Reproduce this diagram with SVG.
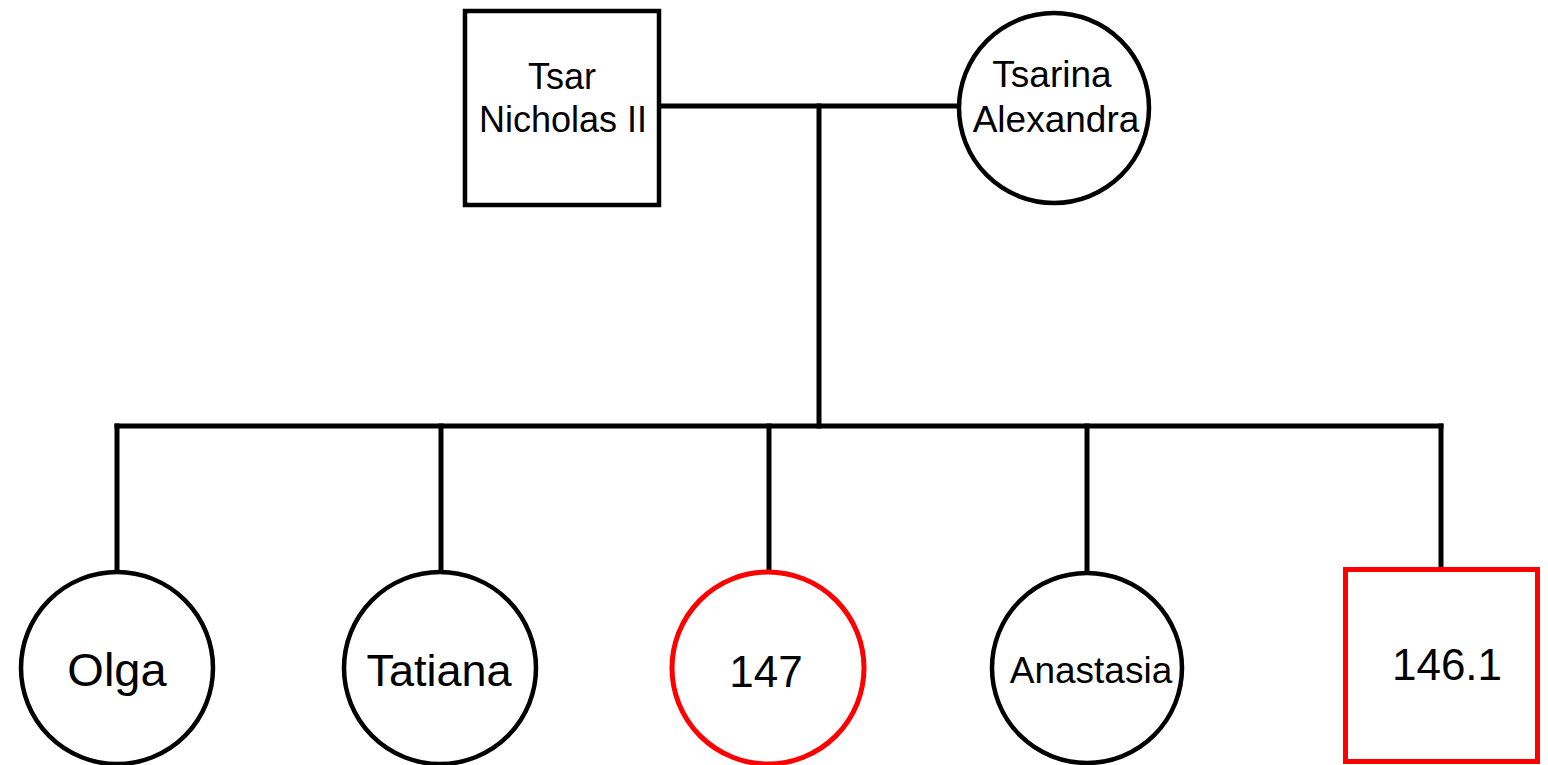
<svg xmlns="http://www.w3.org/2000/svg" width="1548" height="765" viewBox="0 0 1548 765">
  <style>
    .ln { stroke: #000; stroke-width: 5; fill: none; stroke-linecap: square; }
    .shape { fill: #fff; stroke: #000; stroke-width: 4.5; }
    .red { stroke: #ff0000; stroke-width: 5; }
    text { font-family: "Liberation Sans", Arial, sans-serif; fill: #000; text-anchor: middle; }
  </style>
  <rect width="1548" height="765" fill="#fff"/>

  <!-- connectors -->
  <g id="connectors">
    <line class="ln" x1="661" y1="106" x2="957" y2="106"/>
    <line class="ln" x1="819" y1="106" x2="819" y2="426"/>
    <line class="ln" x1="117" y1="426" x2="1441" y2="426"/>
    <line class="ln" x1="117" y1="426" x2="117" y2="572"/>
    <line class="ln" x1="441" y1="426" x2="441" y2="572"/>
    <line class="ln" x1="769" y1="426" x2="769" y2="572"/>
    <line class="ln" x1="1087" y1="426" x2="1087" y2="572"/>
    <line class="ln" x1="1441" y1="426" x2="1441" y2="567"/>
  </g>

  <!-- parents -->
  <g id="tsar-nicholas">
    <rect class="shape" x="465" y="11" width="194" height="194"/>
    <text x="562" y="89" font-size="36">Tsar</text>
    <text x="563" y="132" font-size="36">Nicholas II</text>
  </g>
  <g id="tsarina-alexandra">
    <circle class="shape" cx="1054" cy="108" r="95"/>
    <text x="1052" y="87" font-size="37">Tsarina</text>
    <text x="1056" y="132" font-size="37">Alexandra</text>
  </g>

  <!-- children -->
  <g id="olga">
    <circle class="shape" cx="117" cy="668" r="96"/>
    <text x="117" y="686" font-size="47">Olga</text>
  </g>
  <g id="tatiana">
    <circle class="shape" cx="440" cy="668" r="96"/>
    <text x="439" y="686" font-size="45">Tatiana</text>
  </g>
  <g id="child-147">
    <circle class="shape red" cx="768" cy="668" r="96"/>
    <text x="766" y="687" font-size="44">147</text>
  </g>
  <g id="anastasia">
    <circle class="shape" cx="1087" cy="668" r="95"/>
    <text x="1091" y="683" font-size="37">Anastasia</text>
  </g>
  <g id="child-146-1">
    <rect class="shape red" x="1345.5" y="569.5" width="192" height="192"/>
    <text x="1447" y="680" font-size="44">146.1</text>
  </g>
</svg>
